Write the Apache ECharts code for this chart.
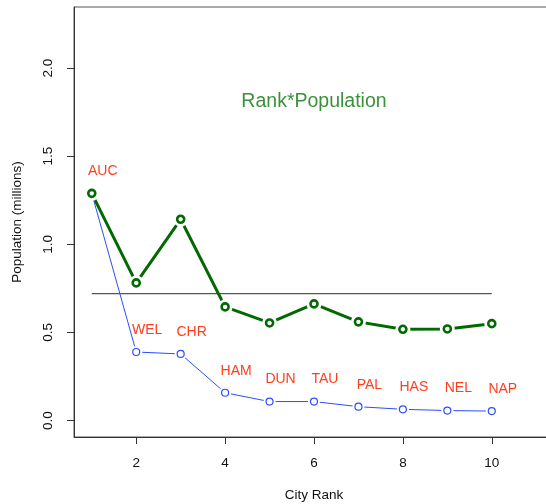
<!DOCTYPE html>
<html>
<head>
<meta charset="utf-8">
<script src="https://cdn.jsdelivr.net/npm/echarts@6/dist/echarts.min.js"></script>
<style>
  html, body { margin: 0; padding: 0; background: #fff; }
  #chart { width: 546px; height: 504px; }
</style>
</head>
<body>
<div id="chart"></div>
<script>
// city ranks and names
var ranks = [1, 2, 3, 4, 5, 6, 7, 8, 9, 10];
var cities = ['AUC', 'WEL', 'CHR', 'HAM', 'DUN', 'TAU', 'PAL', 'HAS', 'NEL', 'NAP'];
// population in millions
var population = [1.289, 0.389, 0.378, 0.158, 0.108, 0.108, 0.079, 0.064, 0.057, 0.054];
// rank * population
var rankPop = [1.289, 0.781, 1.142, 0.645, 0.554, 0.662, 0.56, 0.518, 0.52, 0.55];
// mean of rank*population, drawn from rank 1 to rank 10
var meanRanks = [1, 10];
var meanValue = 0.72;
// axis ticks
var xTicks = [2, 4, 6, 8, 10];
var yTicks = [0, 0.5, 1, 1.5, 2];
var titleText = 'Rank*Population';
var titlePos = [6, 1.81];

var FONT = 'Liberation Sans';
var BLUE = '#2a4dff';
var GREEN = '#006a00';

function pairs(xs, ys) {
  return xs.map(function (x, i) { return [x, ys[i]]; });
}

var chart = echarts.init(document.getElementById('chart'));

var option = {
  animation: false,
  textStyle: { fontFamily: FONT },
  grid: {
    left: 74, right: -8, top: 7, bottom: 67,
    outerBoundsMode: 'none', containLabel: false,
    show: true, borderColor: '#555', borderWidth: 1, backgroundColor: 'transparent'
  },
  xAxis: {
    type: 'value', min: 0.6, max: 11.4,
    name: 'City Rank', nameLocation: 'middle', nameGap: 51,
    nameTextStyle: { fontSize: 13.5, color: '#111', fontFamily: FONT },
    axisLine: { show: true, onZero: false, lineStyle: { color: '#333', width: 1 } },
    axisTick: { show: true, length: 7, customValues: xTicks, lineStyle: { color: '#333' } },
    axisLabel: {
      customValues: xTicks, margin: 19, fontSize: 13.5, color: '#111', fontFamily: FONT
    },
    splitLine: { show: false }
  },
  yAxis: {
    type: 'value', min: -0.093, max: 2.346,
    name: 'Population (millions)', nameLocation: 'middle', nameGap: 50, nameRotate: 90,
    nameTextStyle: { fontSize: 13.5, color: '#111', fontFamily: FONT },
    axisLine: { show: true, onZero: false, lineStyle: { color: '#333', width: 1 } },
    axisTick: { show: true, length: 7, customValues: yTicks, lineStyle: { color: '#333' } },
    axisLabel: {
      customValues: yTicks, rotate: 90, margin: 19, fontSize: 13.5, color: '#111', fontFamily: FONT,
      formatter: function (v) { return v.toFixed(1); }
    },
    splitLine: { show: false }
  },
  series: [
    {
      // mean line
      type: 'line', data: pairs(meanRanks, [meanValue, meanValue]),
      showSymbol: false, z: 1,
      lineStyle: { color: '#555', width: 1.4 }
    },
    {
      type: 'line', data: pairs(ranks, population),
      showSymbol: false, z: 2,
      lineStyle: { color: BLUE, width: 1 }
    },
    {
      // white gaps round the blue points
      type: 'scatter', data: pairs(ranks, population), z: 3,
      symbol: 'circle', symbolSize: 12, itemStyle: { color: '#fff', opacity: 1 }
    },
    {
      type: 'scatter', data: pairs(ranks, population), z: 4,
      symbol: 'circle', symbolSize: 7,
      itemStyle: { color: '#fff', borderColor: BLUE, borderWidth: 1.2, opacity: 1 },
      label: {
        show: true, position: 'inside', offset: [11, -22],
        formatter: function (p) { return cities[p.dataIndex]; },
        color: '#ff3d1f', fontSize: 14, fontFamily: FONT
      }
    },
    {
      type: 'line', data: pairs(ranks, rankPop),
      showSymbol: false, z: 5,
      lineStyle: { color: GREEN, width: 3 }
    },
    {
      type: 'scatter', data: pairs(ranks, rankPop), z: 6,
      symbol: 'circle', symbolSize: 15, itemStyle: { color: '#fff', opacity: 1 }
    },
    {
      type: 'scatter', data: pairs(ranks, rankPop), z: 7,
      symbol: 'circle', symbolSize: 7,
      itemStyle: { color: '#fff', borderColor: GREEN, borderWidth: 2.6, opacity: 1 }
    },
    {
      // title text placed in data coordinates
      type: 'scatter', data: [titlePos], z: 8, symbolSize: 0, silent: true,
      label: {
        show: true, position: 'inside', formatter: titleText,
        color: '#0a740a', fontSize: 19.5, fontFamily: FONT
      }
    }
  ]
};

chart.setOption(option);
</script>
</body>
</html>
